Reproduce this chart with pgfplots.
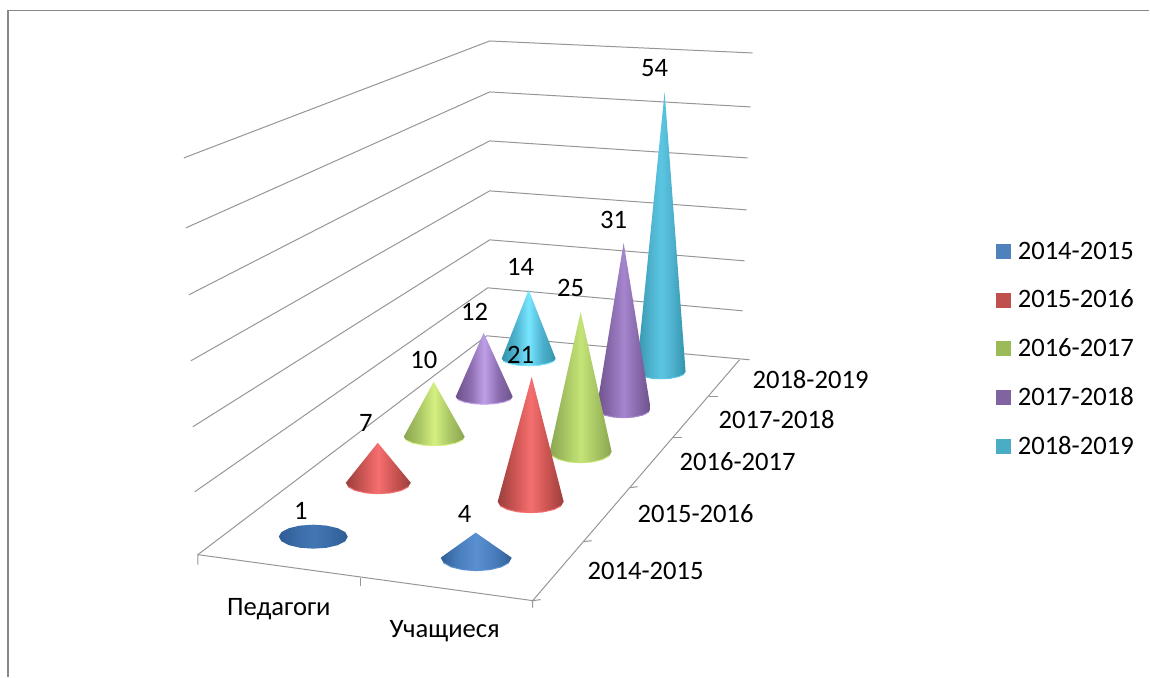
\documentclass[border=0pt]{standalone}
\usepackage{pgfplots}
\pgfplotsset{compat=1.18}
\usepackage{fontspec}
\setmainfont{Carlito}
\definecolor{gridc}{HTML}{969696}
\definecolor{framec}{HTML}{888888}
\definecolor{a1}{HTML}{2F5F97}\definecolor{b1}{HTML}{4A7FBF}\definecolor{c1}{HTML}{5A90D0}
\definecolor{a2}{HTML}{9A3F3D}\definecolor{b2}{HTML}{CC5553}\definecolor{c2}{HTML}{F56F6F}
\definecolor{a3}{HTML}{8AA552}\definecolor{b3}{HTML}{AAC765}\definecolor{c3}{HTML}{D5F080}
\definecolor{a4}{HTML}{6C5189}\definecolor{b4}{HTML}{8C6DB0}\definecolor{c4}{HTML}{BFA0E8}
\definecolor{a5}{HTML}{3293AB}\definecolor{b5}{HTML}{4FB3CF}\definecolor{c5}{HTML}{78E6FF}
\definecolor{a6}{HTML}{2F5C93}\definecolor{b6}{HTML}{3A6CA8}\definecolor{c6}{HTML}{4276B2}
\definecolor{c7}{HTML}{C4E478}\definecolor{b7}{HTML}{A8C663}
\definecolor{c8}{HTML}{A585CC}\definecolor{b8}{HTML}{8A6BAE}
\definecolor{c9}{HTML}{5CC6E2}\definecolor{b9}{HTML}{4DB0CC}
\definecolor{l1}{HTML}{4F81BD}\definecolor{l2}{HTML}{C0504D}\definecolor{l3}{HTML}{9BBB59}\definecolor{l4}{HTML}{8064A2}\definecolor{l5}{HTML}{4BACC6}
\pgfdeclarehorizontalshading{coneA}{100bp}{color(0bp)=(a1);color(25bp)=(a1);color(38bp)=(b1);color(50bp)=(c1);color(62bp)=(b1);color(75bp)=(a1);color(100bp)=(a1)}
\pgfdeclarehorizontalshading{coneF}{100bp}{color(0bp)=(a6);color(25bp)=(a6);color(38bp)=(b6);color(50bp)=(c6);color(62bp)=(b6);color(75bp)=(a6);color(100bp)=(a6)}
\pgfdeclarehorizontalshading{coneB}{100bp}{color(0bp)=(a2);color(25bp)=(a2);color(38bp)=(b2);color(50bp)=(c2);color(62bp)=(b2);color(75bp)=(a2);color(100bp)=(a2)}
\pgfdeclarehorizontalshading{coneC}{100bp}{color(0bp)=(a3);color(25bp)=(a3);color(38bp)=(b3);color(50bp)=(c3);color(62bp)=(b3);color(75bp)=(a3);color(100bp)=(a3)}
\pgfdeclarehorizontalshading{coneG}{100bp}{color(0bp)=(a3);color(25bp)=(a3);color(38bp)=(b7);color(50bp)=(c7);color(62bp)=(b7);color(75bp)=(a3);color(100bp)=(a3)}
\pgfdeclarehorizontalshading{coneD}{100bp}{color(0bp)=(a4);color(25bp)=(a4);color(38bp)=(b4);color(50bp)=(c4);color(62bp)=(b4);color(75bp)=(a4);color(100bp)=(a4)}
\pgfdeclarehorizontalshading{coneH}{100bp}{color(0bp)=(a4);color(25bp)=(a4);color(38bp)=(b8);color(50bp)=(c8);color(62bp)=(b8);color(75bp)=(a4);color(100bp)=(a4)}
\pgfdeclarehorizontalshading{coneE}{100bp}{color(0bp)=(a5);color(25bp)=(a5);color(38bp)=(b5);color(50bp)=(c5);color(62bp)=(b5);color(75bp)=(a5);color(100bp)=(a5)}
\pgfdeclarehorizontalshading{coneI}{100bp}{color(0bp)=(a5);color(25bp)=(a5);color(38bp)=(b9);color(50bp)=(c9);color(62bp)=(b9);color(75bp)=(a5);color(100bp)=(a5)}
\begin{document}
\begin{tikzpicture}
\begin{axis}[
  scale only axis, width=575pt, height=338.5pt,
  xmin=0, xmax=1150, ymin=0, ymax=677, y dir=reverse,
  hide axis, clip=false,
  font=\fontsize{13.3}{15}\selectfont,
  legend cell align=left,
  legend image code/.code={\fill[draw=none,#1] (0pt,-3.75pt) rectangle (7.5pt,3.75pt);},
  legend style={at={(axis cs:997,240)}, anchor=north west, draw=none, fill=none,
    inner sep=0pt, outer sep=0pt, row sep=11.85pt,
    /tikz/every odd column/.append style={column sep=2.2pt},
    nodes={inner sep=1pt, font=\fontsize{13.3}{15}\selectfont}},
  grid line/.style={color=gridc, line width=0.5pt, forget plot},
  frame line/.style={color=framec, line width=0.7pt, forget plot},
  cone/.style={draw=none, forget plot, shading=#1},
  rim/.style={color=#1, line width=0.5pt, forget plot},
]
% page extent
\addplot[draw=none, forget plot] coordinates {(0,0)(1150,677)};
% frame
\addplot[frame line] coordinates {(8,677)(8,10.5)(1150,10.5)};
% walls
\addplot[grid line] coordinates {(184,158)(490,41)(753,53)};
\addplot[grid line] coordinates {(186,228)(490,92)(751,107)};
\addplot[grid line] coordinates {(189,295)(490,141)(748,158)};
\addplot[grid line] coordinates {(191,361)(490,191)(747,210)};
\addplot[grid line] coordinates {(193,427)(490,240)(745,261)};
\addplot[grid line] coordinates {(195,492)(488,288)(743,311)};
% floor
\addplot[grid line] coordinates {(198,555)(487,336)(750,360)};
\addplot[grid line] coordinates {(198,565)(198,555)(533,601)(533,608)};
\addplot[grid line] coordinates {(541,600)(533,601)(740,360)};
\addplot[grid line] coordinates {(361,578)(361,586)};
\addplot[grid line] coordinates {(584,542)(592,541)};
\addplot[grid line] coordinates {(630,488)(638,487)};
\addplot[grid line] coordinates {(673,438)(682,438)};
\addplot[grid line] coordinates {(709,397)(718,397)};
% cones: row 2018-2019
\addplot[cone=coneE] coordinates {(529,290)(556,359)(553.9,361.7)(548.1,363.9)(539.3,365.5)(529,366)(518.7,365.5)(509.9,363.9)(504.1,361.7)(502,359)(529,290)};
\addplot[rim=c5] coordinates {(553.9,361.7)(548.1,363.9)(539.3,365.5)(529,366)(518.7,365.5)(509.9,363.9)(504.1,361.7)};
\addplot[cone=coneI] coordinates {(665,92)(686,372)(684.1,374.7)(678.8,376.9)(670.9,378.5)(661.5,379)(652.1,378.5)(644.2,376.9)(638.9,374.7)(637,372)(665,92)};
\addplot[rim=c9] coordinates {(684.1,374.7)(678.8,376.9)(670.9,378.5)(661.5,379)(652.1,378.5)(644.2,376.9)(638.9,374.7)};
% row 2017-2018
\addplot[cone=coneD] coordinates {(484,333)(513,397)(510.8,399.9)(504.6,402.3)(495.4,403.9)(484.5,404.5)(473.6,403.9)(464.4,402.3)(458.2,399.9)(456,397)(484,333)};
\addplot[rim=c4] coordinates {(510.8,399.9)(504.6,402.3)(495.4,403.9)(484.5,404.5)(473.6,403.9)(464.4,402.3)(458.2,399.9)};
\addplot[cone=coneH] coordinates {(624,243)(651,409)(648.9,412.4)(643.1,415.4)(634.3,417.3)(624,418)(613.7,417.3)(604.9,415.4)(599.1,412.4)(597,409)(624,243)};
\addplot[rim=c8] coordinates {(648.9,412.4)(643.1,415.4)(634.3,417.3)(624,418)(613.7,417.3)(604.9,415.4)(599.1,412.4)};
% row 2016-2017
\addplot[cone=coneC] coordinates {(434,382)(465,437)(462.7,440.4)(456.1,443.4)(446.2,445.3)(434.5,446)(422.8,445.3)(412.9,443.4)(406.3,440.4)(404,437)(434,382)};
\addplot[rim=c3] coordinates {(462.7,440.4)(456.1,443.4)(446.2,445.3)(434.5,446)(422.8,445.3)(412.9,443.4)(406.3,440.4)};
\addplot[cone=coneG] coordinates {(581,312)(612,452)(609.6,456.2)(602.9,459.8)(592.9,462.2)(581,463)(569.1,462.2)(559.1,459.8)(552.4,456.2)(550,452)(581,312)};
\addplot[rim=c7] coordinates {(609.6,456.2)(602.9,459.8)(592.9,462.2)(581,463)(569.1,462.2)(559.1,459.8)(552.4,456.2)};
% row 2015-2016
\addplot[cone=coneB] coordinates {(378,443)(411,483)(408.5,487.2)(401.5,490.8)(390.9,493.2)(378.5,494)(366.1,493.2)(355.5,490.8)(348.5,487.2)(346,483)(378,443)};
\addplot[rim=c2] coordinates {(408.5,487.2)(401.5,490.8)(390.9,493.2)(378.5,494)(366.1,493.2)(355.5,490.8)(348.5,487.2)};
\addplot[cone=coneB] coordinates {(532,377)(564,502)(561.5,506.2)(554.3,509.8)(543.6,512.2)(531,513)(518.4,512.2)(507.7,509.8)(500.5,506.2)(498,502)(532,377)};
\addplot[rim=c2] coordinates {(561.5,506.2)(554.3,509.8)(543.6,512.2)(531,513)(518.4,512.2)(507.7,509.8)(500.5,506.2)};
% row 2014-2015
\addplot[cone=coneF] coordinates {(348,537)(345.4,541.6)(337.9,545.5)(326.7,548.1)(313.5,549)(300.3,548.1)(289.1,545.5)(281.6,541.6)(279,537)(281.6,532.4)(289.1,528.5)(300.3,525.9)(313.5,525)(326.7,525.9)(337.9,528.5)(345.4,532.4)(348,537)};
\addplot[cone=coneA] coordinates {(476,533)(512,558)(509.3,563)(501.6,567.2)(490.1,570)(476.5,571)(462.9,570)(451.4,567.2)(443.7,563)(441,558)(476,533)};
\addplot[rim=c1] coordinates {(509.3,563)(501.6,567.2)(490.1,570)(476.5,571)(462.9,570)(451.4,567.2)(443.7,563)};
% legend
\addlegendimage{fill=l1}\addlegendentry{2014-2015}
\addlegendimage{fill=l2}\addlegendentry{2015-2016}
\addlegendimage{fill=l3}\addlegendentry{2016-2017}
\addlegendimage{fill=l4}\addlegendentry{2017-2018}
\addlegendimage{fill=l5}\addlegendentry{2018-2019}
% value labels
\node at (axis cs:301,511) {1};
\node at (axis cs:465,514) {4};
\node at (axis cs:366,423) {7};
\node at (axis cs:424,360) {10};
\node at (axis cs:475,312) {12};
\node at (axis cs:521,267) {14};
\node at (axis cs:521,355) {21};
\node at (axis cs:571,288) {25};
\node at (axis cs:614,220) {31};
\node at (axis cs:655,68) {54};
% category labels
\node at (axis cs:279,610) {Педагоги};
\node at (axis cs:445,632) {Учащиеся};
\node at (axis cs:646,571) {2014-2015};
\node at (axis cs:696,514) {2015-2016};
\node at (axis cs:738,462) {2016-2017};
\node at (axis cs:777,420) {2017-2018};
\node at (axis cs:811,380) {2018-2019};
\end{axis}
\end{tikzpicture}
\end{document}
